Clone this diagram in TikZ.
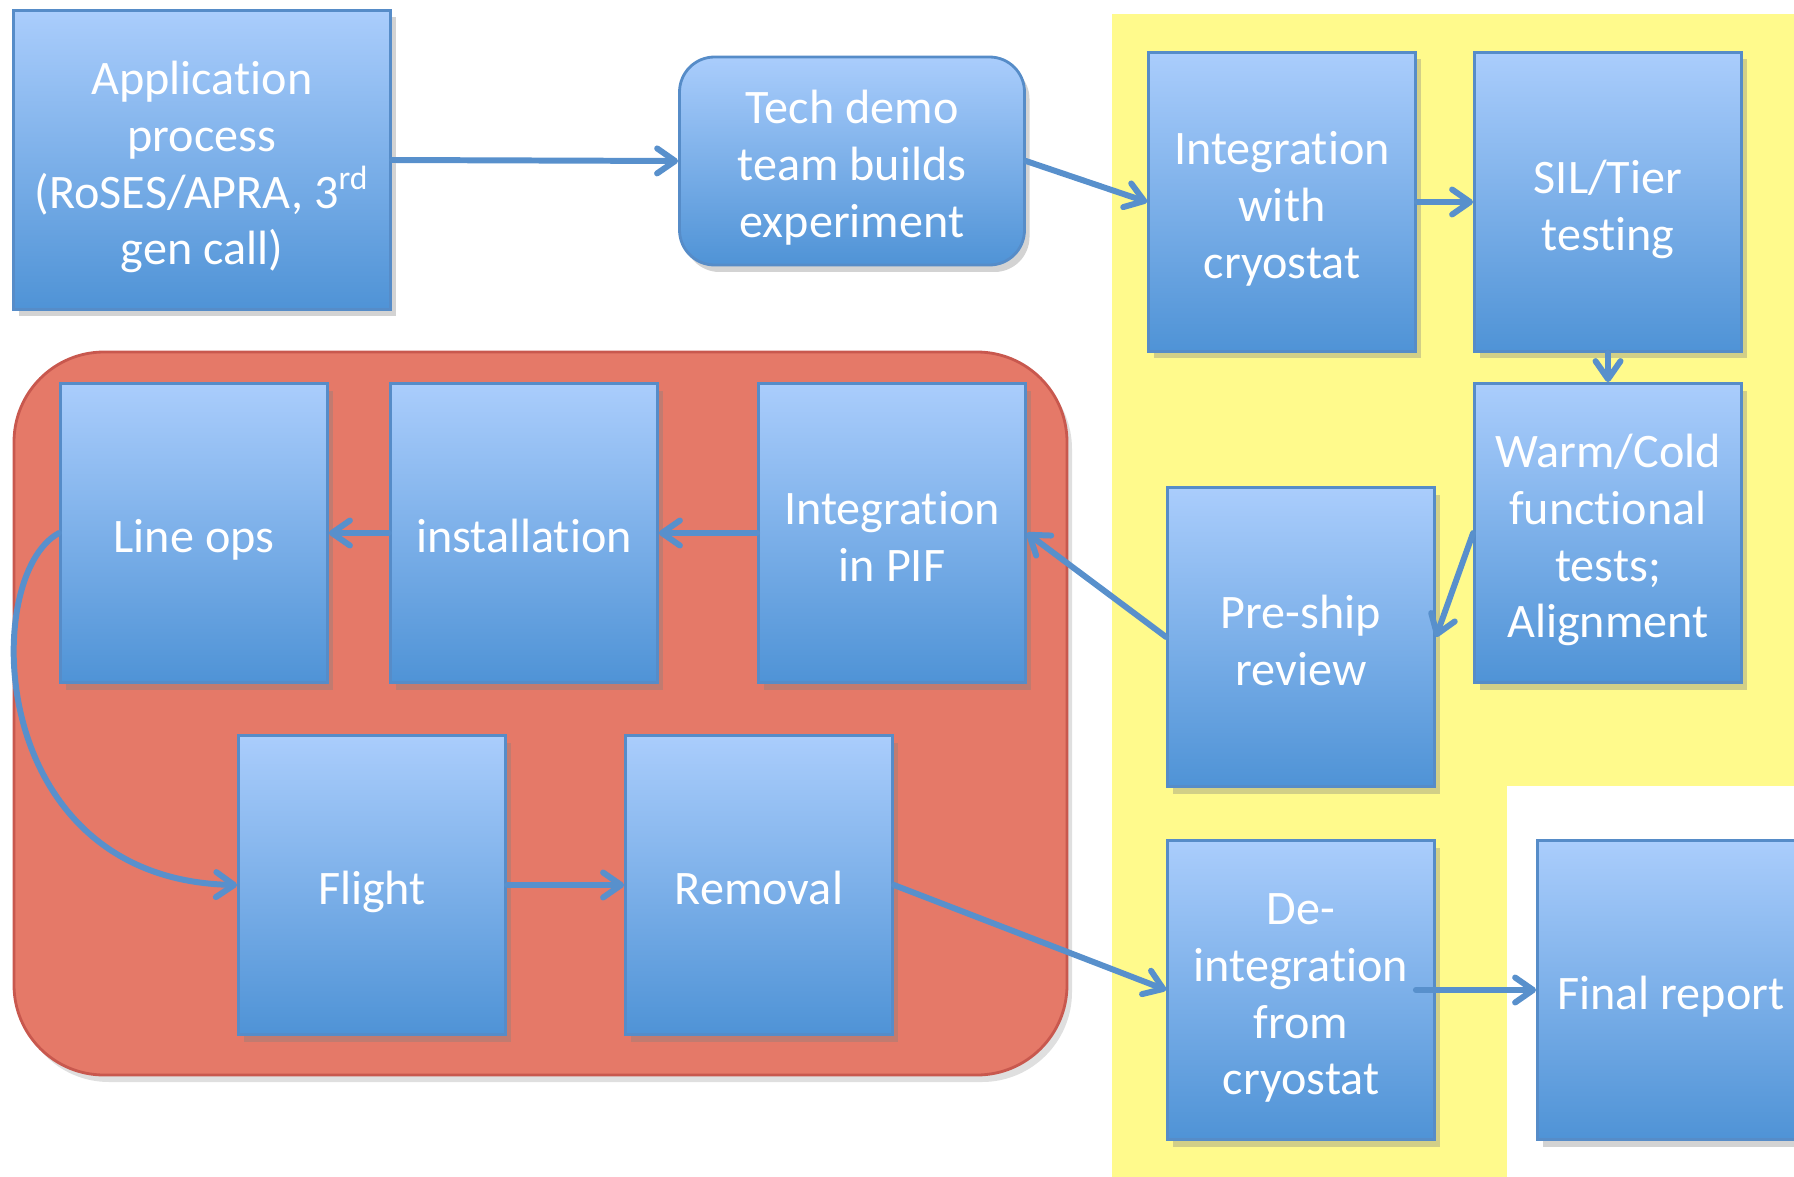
\documentclass[tikz,border=0pt]{standalone}
\usepackage{fontspec}
\setmainfont{Carlito}[Ligatures=NoCommon]
\usepackage{xcolor}
\usepackage{tikz}
\usetikzlibrary{arrows.meta, shadows}
\definecolor{boxtop}{RGB}{170, 205, 252}
\definecolor{boxbot}{RGB}{79, 147, 214}
\definecolor{boxedge}{RGB}{86, 140, 200}
\definecolor{flowline}{RGB}{88, 144, 204}
\definecolor{hwzone}{RGB}{255, 250, 140}
\definecolor{opszone}{RGB}{229, 121, 104}
\definecolor{opsedge}{RGB}{200, 88, 78}

\begin{document}
\begin{tikzpicture}[x=0.1mm, y=-0.1mm,
		stage/.style={rectangle, draw=boxedge, line width=0.8pt,
			top color=boxtop, bottom color=boxbot, text=white, align=center,
			font=\fontsize{13.7}{16.2}\selectfont,
			text height=16pt, text depth=4.86pt,
			minimum width=\bw, minimum height=\bh, inner sep=1mm,
			drop shadow={opacity=0.35, shadow xshift=0.5mm, shadow yshift=-0.7mm}},
		twolines/.style={text height=32.2pt},
		threelines/.style={text height=48.4pt},
		fourlines/.style={text height=64.6pt},
		flow/.style={draw=flowline, line width=1.7pt, line cap=round,
			-{Straight Barb[length=1.8mm, width=2.5mm, line width=1.7pt, round]}}]
			\def\bw{26.7mm}
			\def\bh{29.9mm}
			
			\path[use as bounding box, clip] (0,0) rectangle (1794,1177);
			
			% zones behind the boxes
			\fill[hwzone] (1112,14) rectangle (1794,786);
			\fill[hwzone] (1112,786) rectangle (1507,1177);
			\draw[opsedge, fill=opszone, line width=0.8pt, rounded corners=9mm,
				drop shadow={opacity=0.25, shadow xshift=0.5mm, shadow yshift=-0.7mm}]
				(14,352) rectangle (1067,1075);
			
			% top row
			\node[stage, fourlines, minimum width=37.7mm] (app) at (202,160) {Application\\process\\(RoSES/APRA, 3\textsuperscript{rd}\\gen call)};
			\node[stage, threelines, minimum width=34.5mm, minimum height=20.8mm, rounded corners=3.5mm] (tech) at (852,161) {Tech demo\\team builds\\experiment};
			\node[stage, threelines] (intcryo) at (1282,202) {Integration\\with\\cryostat};
			\node[stage, twolines] (sil) at (1608,202) {SIL/Tier\\testing};
			\node[stage, fourlines] (warm) at (1608,533) {Warm/Cold\\functional\\tests;\\Alignment};
			\node[stage, twolines] (preship) at (1301,637) {Pre-ship\\review};
			
			% operations
			\node[stage, twolines] (pif) at (892,533) {Integration\\in PIF};
			\node[stage] (install) at (524,533) {installation};
			\node[stage] (lineops) at (194,533) {Line ops};
			\node[stage] (flight) at (372,885) {Flight};
			\node[stage] (removal) at (759,885) {Removal};
			
			% after flight
			\node[stage, fourlines] (deint) at (1301,990) {De-\\integration\\from\\cryostat};
			\node[stage] (final) at (1671,990) {Final report};
			
			\draw[flow] (app.east) -- (tech.west);
			\draw[flow] (tech.east) -- (intcryo.west);
			\draw[flow] (intcryo.east) -- (sil.west);
			\draw[flow] (sil.south) -- (warm.north);
			\draw[flow] (warm.west) -- (preship.east);
			\draw[flow] (preship.west) -- (pif.east);
			\draw[flow] (pif.west) -- (install.east);
			\draw[flow] (install.west) -- (lineops.east);
			\draw[flow] (lineops.west) .. controls (-20,575) and (-15,880) .. (flight.west);
			\draw[flow] (flight.east) -- (removal.west);
			\draw[flow] (removal.east) -- (deint.west);
			\draw[flow] ([xshift=-2mm]deint.east) -- (final.west);
			
		\end{tikzpicture}
\end{document}
